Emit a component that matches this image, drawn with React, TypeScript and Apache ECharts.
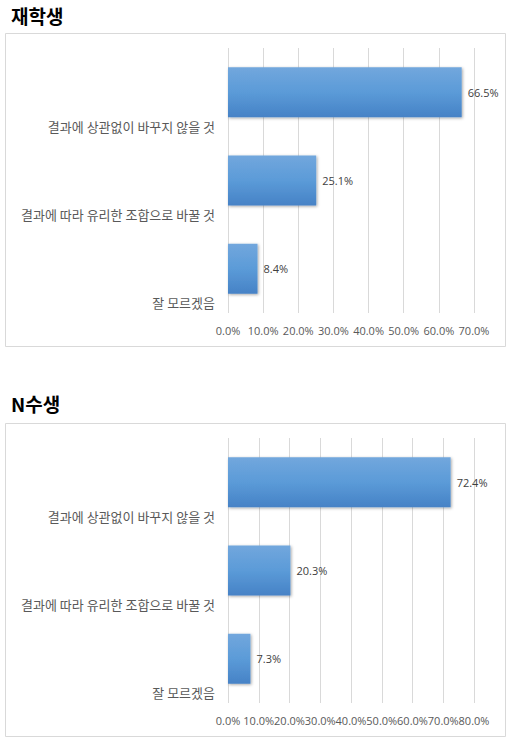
import React, { useEffect, useRef } from 'react';
import * as echarts from 'echarts';

// 응답 항목
const categories = ['결과에 상관없이 바꾸지 않을 것', '결과에 따라 유리한 조합으로 바꿀 것', '잘 모르겠음'];
// 재학생 응답 비율 (%)
const enrolledValues = [66.5, 25.1, 8.4];
// N수생 응답 비율 (%)
const repeaterValues = [72.4, 20.3, 7.3];
const panelTitles = ['재학생', 'N수생'];
const axisMax = [70, 80];

const KR_FONT = "'Noto Sans CJK KR', sans-serif";
const NUM_FONT = "'Open Sans', 'Noto Sans CJK KR', sans-serif";

const App: React.FC = () => {
  const chartRef = useRef<HTMLDivElement>(null);

  useEffect(() => {
    if (!chartRef.current) return;
    const chart = echarts.init(chartRef.current, null, { renderer: 'svg' });

    const gridTops = [48, 438];
    const boxTops = [33.5, 423.5];
    const dataSets = [enrolledValues, repeaterValues];

    const barColor = new echarts.graphic.LinearGradient(0, 0, 0, 1, [
      { offset: 0, color: '#72a7dd' },
      { offset: 0.5, color: '#5b9bd8' },
      { offset: 1, color: '#4682c6' }
    ]);

    const option: echarts.EChartsOption = {
      animation: false,
      backgroundColor: '#ffffff',
      title: panelTitles.map((t, i) => ({
        text: t,
        left: 6,
        top: i === 0 ? 1 : 389,
        textStyle: {
          fontSize: 19,
          fontWeight: 'bold',
          color: '#000000',
          fontFamily: KR_FONT
        }
      })),
      graphic: boxTops.map((y) => ({
        type: 'rect',
        shape: { x: 5.5, y, width: 500, height: 313 },
        style: { fill: 'none', stroke: '#d9d9d9', lineWidth: 1 },
        silent: true,
        z: -1
      })),
      grid: gridTops.map((top) => ({
        left: 228,
        right: 35,
        top,
        height: 265
      })),
      xAxis: axisMax.map((max, i) => ({
        type: 'value',
        gridIndex: i,
        min: 0,
        max,
        interval: 10,
        axisLine: { show: false },
        axisTick: { show: false },
        splitLine: { show: true, lineStyle: { color: '#d9d9d9', width: 1 } },
        axisLabel: {
          margin: 12,
          fontSize: 11,
          color: '#595959',
          fontFamily: NUM_FONT,
          formatter: (v: number) => `${v.toFixed(1)}%`
        }
      })),
      yAxis: axisMax.map((_, i) => ({
        type: 'category',
        gridIndex: i,
        inverse: true,
        data: categories,
        axisLine: { show: false },
        axisTick: { show: false },
        axisLabel: {
          interval: 0,
          margin: 13,
          fontSize: 13,
          color: '#595959',
          fontFamily: KR_FONT,
          lineHeight: 68,
          // 엑셀처럼 항목 이름을 막대 아래쪽에 둔다
          formatter: (v: string) => `\n${v}`
        }
      })),
      series: dataSets.map((values, i) => ({
        type: 'bar',
        xAxisIndex: i,
        yAxisIndex: i,
        data: values,
        barWidth: 50,
        itemStyle: {
          color: barColor,
          shadowBlur: 3,
          shadowColor: 'rgba(0, 0, 0, 0.35)',
          shadowOffsetX: 1,
          shadowOffsetY: 1
        },
        label: {
          show: true,
          position: 'right',
          distance: 6,
          fontSize: 11,
          color: '#404040',
          fontFamily: NUM_FONT,
          formatter: (p: any) => `${Number(p.value).toFixed(1)}%`
        }
      }))
    };

    chart.setOption(option);

    return () => {
      chart.dispose();
    };
  }, []);

  return (
    <div
      ref={chartRef}
      style={{
        position: 'fixed',
        left: 0,
        top: 0,
        width: '509px',
        height: '742px'
      }}
    />
  );
};

export default App;
